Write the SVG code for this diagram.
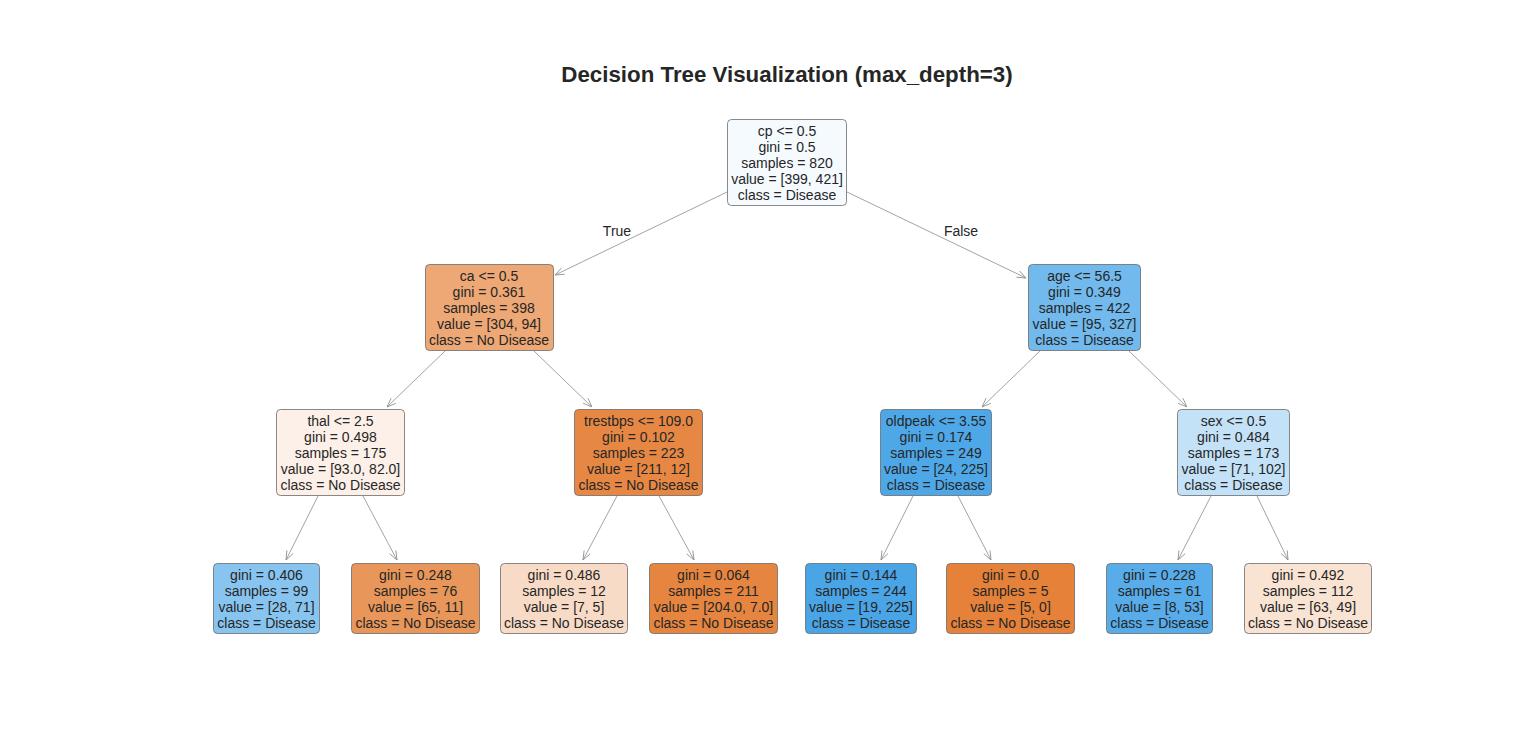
<svg xmlns="http://www.w3.org/2000/svg" width="1536" height="754" viewBox="0 0 1536 754">
<style>
.t{font-family:"Liberation Sans",Arial,sans-serif;font-size:14px;fill:#262626;text-anchor:middle}
.title{font-family:"Liberation Sans",Arial,sans-serif;font-size:22.3px;font-weight:bold;fill:#262626;text-anchor:middle}
.box{stroke:#6b6b6b;stroke-width:0.8}
.e{stroke:#8c8c8c;stroke-width:0.8;fill:none;marker-end:url(#ah)}
</style>
<defs>
<marker id="ah" viewBox="0 0 10 10" refX="10" refY="5" markerWidth="10" markerHeight="10" markerUnits="userSpaceOnUse" orient="auto">
<path d="M1,1.5 L10,5 L1,8.5" fill="none" stroke="#8c8c8c" stroke-width="0.8"/>
</marker>
</defs>
<rect width="1536" height="754" fill="#ffffff"/>
<text class="title" x="787" y="82">Decision Tree Visualization (max_depth=3)</text>
<g id="connectors">
<line class="e" x1="727" y1="192" x2="555" y2="275"/>
<line class="e" x1="847" y1="192" x2="1026" y2="278"/>
<line class="e" x1="445" y1="351" x2="387" y2="407"/>
<line class="e" x1="534" y1="351" x2="592" y2="407"/>
<line class="e" x1="1040" y1="351" x2="982" y2="407"/>
<line class="e" x1="1129" y1="351" x2="1187" y2="407"/>
<line class="e" x1="318" y1="496" x2="286" y2="560"/>
<line class="e" x1="363" y1="496" x2="397" y2="560"/>
<line class="e" x1="617" y1="496" x2="583" y2="560"/>
<line class="e" x1="659" y1="496" x2="694" y2="560"/>
<line class="e" x1="913" y1="496" x2="881" y2="560"/>
<line class="e" x1="958" y1="496" x2="991" y2="560"/>
<line class="e" x1="1211" y1="496" x2="1178" y2="560"/>
<line class="e" x1="1257" y1="496" x2="1288" y2="560"/>
<text class="t" x="617" y="236">True</text>
<text class="t" x="961" y="236">False</text>
</g>
<g id="root">
<rect class="box" x="727.5" y="119.5" width="119" height="86" rx="4" fill="#f5fafe"/>
<text class="t" x="787" y="136">cp &lt;= 0.5</text>
<text class="t" x="787" y="152">gini = 0.5</text>
<text class="t" x="787" y="168">samples = 820</text>
<text class="t" x="787" y="184">value = [399, 421]</text>
<text class="t" x="787" y="200">class = Disease</text>
</g>
<g id="n_ca">
<rect class="box" x="425.5" y="264.5" width="128" height="86" rx="4" fill="#eda876"/>
<text class="t" x="489" y="281">ca &lt;= 0.5</text>
<text class="t" x="489" y="297">gini = 0.361</text>
<text class="t" x="489" y="313">samples = 398</text>
<text class="t" x="489" y="329">value = [304, 94]</text>
<text class="t" x="489" y="345">class = No Disease</text>
</g>
<g id="n_age">
<rect class="box" x="1028.5" y="264.5" width="112" height="86" rx="4" fill="#72b9ed"/>
<text class="t" x="1084.5" y="281">age &lt;= 56.5</text>
<text class="t" x="1084.5" y="297">gini = 0.349</text>
<text class="t" x="1084.5" y="313">samples = 422</text>
<text class="t" x="1084.5" y="329">value = [95, 327]</text>
<text class="t" x="1084.5" y="345">class = Disease</text>
</g>
<g id="n_thal">
<rect class="box" x="276.5" y="409.5" width="128" height="86" rx="4" fill="#fcf0e8"/>
<text class="t" x="340.5" y="426">thal &lt;= 2.5</text>
<text class="t" x="340.5" y="442">gini = 0.498</text>
<text class="t" x="340.5" y="458">samples = 175</text>
<text class="t" x="340.5" y="474">value = [93.0, 82.0]</text>
<text class="t" x="340.5" y="490">class = No Disease</text>
</g>
<g id="n_trestbps">
<rect class="box" x="574.5" y="409.5" width="128" height="86" rx="4" fill="#e68844"/>
<text class="t" x="638.5" y="426">trestbps &lt;= 109.0</text>
<text class="t" x="638.5" y="442">gini = 0.102</text>
<text class="t" x="638.5" y="458">samples = 223</text>
<text class="t" x="638.5" y="474">value = [211, 12]</text>
<text class="t" x="638.5" y="490">class = No Disease</text>
</g>
<g id="n_oldpeak">
<rect class="box" x="880.5" y="409.5" width="111" height="86" rx="4" fill="#4ea8e8"/>
<text class="t" x="936" y="426">oldpeak &lt;= 3.55</text>
<text class="t" x="936" y="442">gini = 0.174</text>
<text class="t" x="936" y="458">samples = 249</text>
<text class="t" x="936" y="474">value = [24, 225]</text>
<text class="t" x="936" y="490">class = Disease</text>
</g>
<g id="n_sex">
<rect class="box" x="1177.5" y="409.5" width="112" height="86" rx="4" fill="#c3e1f7"/>
<text class="t" x="1233.5" y="426">sex &lt;= 0.5</text>
<text class="t" x="1233.5" y="442">gini = 0.484</text>
<text class="t" x="1233.5" y="458">samples = 173</text>
<text class="t" x="1233.5" y="474">value = [71, 102]</text>
<text class="t" x="1233.5" y="490">class = Disease</text>
</g>
<g id="leaf1">
<rect class="box" x="213.5" y="563.5" width="106" height="70" rx="4" fill="#87c4ef"/>
<text class="t" x="266.5" y="580">gini = 0.406</text>
<text class="t" x="266.5" y="596">samples = 99</text>
<text class="t" x="266.5" y="612">value = [28, 71]</text>
<text class="t" x="266.5" y="628">class = Disease</text>
</g>
<g id="leaf2">
<rect class="box" x="351.5" y="563.5" width="128" height="70" rx="4" fill="#e9965a"/>
<text class="t" x="415.5" y="580">gini = 0.248</text>
<text class="t" x="415.5" y="596">samples = 76</text>
<text class="t" x="415.5" y="612">value = [65, 11]</text>
<text class="t" x="415.5" y="628">class = No Disease</text>
</g>
<g id="leaf3">
<rect class="box" x="500.5" y="563.5" width="127" height="70" rx="4" fill="#f8dbc6"/>
<text class="t" x="564" y="580">gini = 0.486</text>
<text class="t" x="564" y="596">samples = 12</text>
<text class="t" x="564" y="612">value = [7, 5]</text>
<text class="t" x="564" y="628">class = No Disease</text>
</g>
<g id="leaf4">
<rect class="box" x="649.5" y="563.5" width="128" height="70" rx="4" fill="#e6853f"/>
<text class="t" x="713.5" y="580">gini = 0.064</text>
<text class="t" x="713.5" y="596">samples = 211</text>
<text class="t" x="713.5" y="612">value = [204.0, 7.0]</text>
<text class="t" x="713.5" y="628">class = No Disease</text>
</g>
<g id="leaf5">
<rect class="box" x="805.5" y="563.5" width="111" height="70" rx="4" fill="#4aa5e7"/>
<text class="t" x="861" y="580">gini = 0.144</text>
<text class="t" x="861" y="596">samples = 244</text>
<text class="t" x="861" y="612">value = [19, 225]</text>
<text class="t" x="861" y="628">class = Disease</text>
</g>
<g id="leaf6">
<rect class="box" x="946.5" y="563.5" width="128" height="70" rx="4" fill="#e58139"/>
<text class="t" x="1010.5" y="580">gini = 0.0</text>
<text class="t" x="1010.5" y="596">samples = 5</text>
<text class="t" x="1010.5" y="612">value = [5, 0]</text>
<text class="t" x="1010.5" y="628">class = No Disease</text>
</g>
<g id="leaf7">
<rect class="box" x="1106.5" y="563.5" width="106" height="70" rx="4" fill="#57ace9"/>
<text class="t" x="1159.5" y="580">gini = 0.228</text>
<text class="t" x="1159.5" y="596">samples = 61</text>
<text class="t" x="1159.5" y="612">value = [8, 53]</text>
<text class="t" x="1159.5" y="628">class = Disease</text>
</g>
<g id="leaf8">
<rect class="box" x="1244.5" y="563.5" width="127" height="70" rx="4" fill="#f9e3d3"/>
<text class="t" x="1308" y="580">gini = 0.492</text>
<text class="t" x="1308" y="596">samples = 112</text>
<text class="t" x="1308" y="612">value = [63, 49]</text>
<text class="t" x="1308" y="628">class = No Disease</text>
</g>
</svg>
